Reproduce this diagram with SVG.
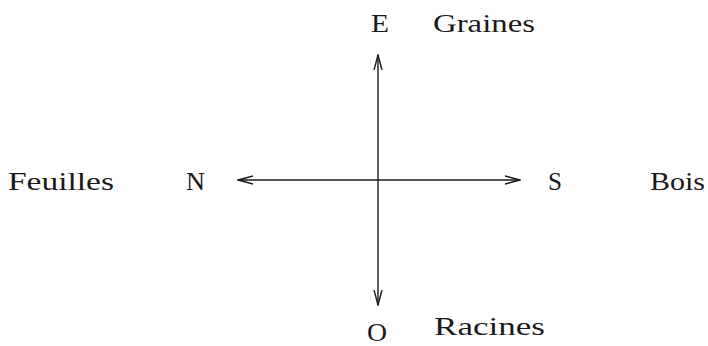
<svg xmlns="http://www.w3.org/2000/svg" width="708" height="346" viewBox="0 0 708 346">
<style>
text{font-family:"Liberation Serif","DejaVu Serif",serif;font-size:25px;fill:#1a1a1a}
.ln{stroke:#1a1a1a;stroke-width:1.4;fill:none}
</style>
<defs>
<marker id="ah" viewBox="0 0 16 10" refX="15" refY="5" markerWidth="16" markerHeight="10" markerUnits="userSpaceOnUse" orient="auto-start-reverse">
<polyline points="0,1 15,5 0,9" fill="none" stroke="#1a1a1a" stroke-width="1.4"/>
</marker>
</defs>
<g id="connectors">
<line class="ln" x1="378" y1="305" x2="378" y2="55" marker-start="url(#ah)" marker-end="url(#ah)"/>
<line class="ln" x1="238" y1="180" x2="520" y2="180" marker-start="url(#ah)" marker-end="url(#ah)"/>
</g>
<g id="E"><text x="371" y="32" textLength="18" lengthAdjust="spacingAndGlyphs">E</text></g>
<g id="Graines"><text x="433" y="32" textLength="102" lengthAdjust="spacingAndGlyphs">Graines</text></g>
<g id="N"><text x="186" y="190" textLength="19" lengthAdjust="spacingAndGlyphs">N</text></g>
<g id="Feuilles"><text x="8" y="190" textLength="106" lengthAdjust="spacingAndGlyphs">Feuilles</text></g>
<g id="S"><text x="548" y="190" textLength="14" lengthAdjust="spacingAndGlyphs">S</text></g>
<g id="Bois"><text x="650" y="190" textLength="55" lengthAdjust="spacingAndGlyphs">Bois</text></g>
<g id="O"><text x="367" y="341" textLength="20" lengthAdjust="spacingAndGlyphs">O</text></g>
<g id="Racines"><text x="434" y="335" textLength="111" lengthAdjust="spacingAndGlyphs">Racines</text></g>
</svg>
